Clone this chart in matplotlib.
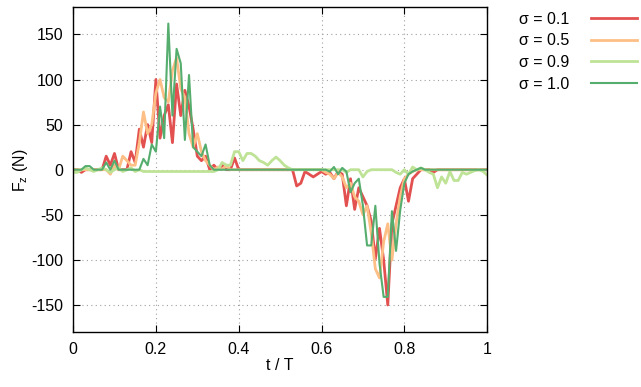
import numpy as np
import matplotlib
matplotlib.use("Agg")
import matplotlib.pyplot as plt

plt.rcParams['font.family'] = ['Liberation Sans', 'DejaVu Sans']
plt.rcParams['mathtext.fontset'] = 'custom'
plt.rcParams['mathtext.rm'] = 'Liberation Sans'
plt.rcParams['axes.unicode_minus'] = False

# time axis, step 0.01
t = np.linspace(0, 1, 101)

fz_01 = [0, 0, -3, 0, 0, 0, 0, 0, 15, 5,
         18, 0, 0, 0, 20, 8, 45, 25, 50, 30,
         100, 35, 60, 72, 30, 95, 60, 88, 70, 45,
         15, 10, 15, 0, 5, 0, 5, 0, 0, 13,
         0, 0, 0, 0, 0, 0, 0, 0, 0, 0,
         0, 0, 0, 0, -18, -15, -2, -5, -8, -5,
         -2, -5, -3, -10, -2, -5, -40, -10, -44, -20,
         -30, -40, -57, -99, -65, -100, -150, -60, -40, -20,
         -10, -35, -10, -5, 0, 0, 0, -3, 0, 0,
         0, 0, 0, 0, 0, 0, 0, 0, 0, 0, 0]

fz_05 = [0, 0, 0, 0, 0, 0, 0, 0, 0, -5,
         5, 0, 15, 10, 5, 5, 30, 64, 40, 50,
         85, 100, 80, 75, 110, 124, 90, 80, 40, 25,
         40, 20, 10, 5, 0, 3, 0, 5, 0, 0,
         0, 0, 0, 0, 0, 0, 0, 0, 0, 0,
         0, 0, 0, 0, 0, 0, 0, 0, 0, 0,
         0, -3, -5, -10, -3, -8, -20, -15, -30, -35,
         -50, -40, -70, -110, -120, -80, -60, -100, -60, -30,
         -10, -5, -2, 0, 0, 0, 0, 0, 0, 0,
         0, 0, 0, 0, 0, 0, 0, 0, 0, 0, 0]

fz_09 = [-3, -3, 0, 2, 0, -2, 0, 2, 0, -3,
         0, 2, -2, 0, 2, -2, 0, -2, -2, -2,
         -2, -2, -2, -2, -2, -2, -2, -2, -2, -2,
         -2, -2, -2, -2, -2, 0, 8, 5, 5, 20,
         20, 10, 18, 18, 15, 10, 8, 5, 10, 14,
         10, 5, 2, 0, 0, 0, 0, 0, 0, 0,
         0, 0, 0, 0, 0, 0, -3, 0, 0, 0,
         -8, -2, 0, 0, 0, 0, 0, 0, -3, -5,
         0, -5, 3, 0, 2, 0, -3, -5, -20, -8,
         -15, -2, -12, -12, -3, -5, -3, -1, 0, -2, -6]

fz_10 = [0, 0, 0, 4, 4, 0, 0, 0, 8, 0,
         10, 0, 0, 0, 0, 0, 0, 12, 5, 28,
         20, 70, 35, 162, 60, 134, 118, 33, 105, 25,
         20, 15, 28, 5, 0, 0, 0, 0, 0, 0,
         0, 0, 0, 0, 0, 0, 0, 0, 0, 0,
         0, 0, 0, 0, 0, 0, 0, 0, 0, 0,
         0, 0, -2, 3, -5, 2, -2, -25, -15, -10,
         -40, -84, -84, -40, -104, -141, -141, -46, -90, -45,
         -15, -5, -2, 0, 2, 0, 0, 0, 0, 0,
         0, 0, 0, 0, 0, 0, 0, 0, 0, 0, 0]

labels = ['σ = 0.1', 'σ = 0.5', 'σ = 0.9', 'σ = 1.0']
colors = ['#e35050', '#fdbf85', '#bfe396', '#55ad6e']
widths = [2.0, 2.0, 2.0, 1.5]

fig = plt.figure(figsize=(6.41, 3.87), dpi=100)
ax = fig.add_axes([0.114, 0.142, 0.646, 0.839])

for y, lab, c, lw in zip([fz_01, fz_05, fz_09, fz_10], labels, colors, widths):
    ax.plot(t, y, color=c, lw=lw, label=lab)

ax.set_xlim(0, 1)
ax.set_ylim(-180, 180)
ax.set_xticks([0, 0.2, 0.4, 0.6, 0.8, 1])
ax.set_xticklabels(['0', '0.2', '0.4', '0.6', '0.8', '1'])
ax.set_yticks([-150, -100, -50, 0, 50, 100, 150])
ax.tick_params(direction='in', top=True, right=True, labelsize=11.5, length=5, pad=7)
ax.grid(True, color='#a0a0a0', ls=(0, (1, 3)), lw=0.8)
for s in ax.spines.values():
    s.set_linewidth(1.0)

ax.set_xlabel('t / T', fontsize=11.5, labelpad=1)
ax.set_ylabel(r'F$_\mathrm{z}$ (N)', fontsize=11.5, labelpad=1)

ax.legend(loc='upper left', bbox_to_anchor=(0.794, 0.995), bbox_transform=fig.transFigure,
          frameon=False, markerfirst=False, fontsize=11.5, handlelength=2.9,
          labelspacing=0.42, handletextpad=1.4, borderaxespad=0.2)

fig.savefig('out.png', dpi=100)
